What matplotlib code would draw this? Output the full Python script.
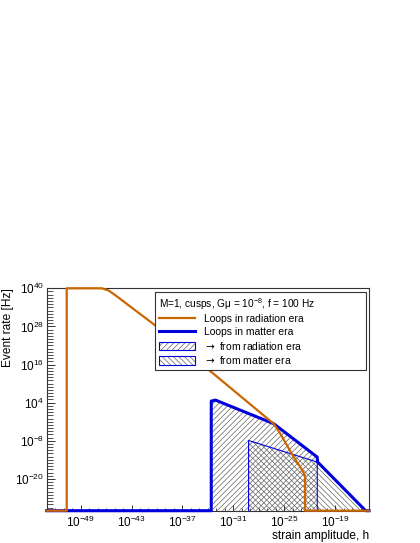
import numpy as np
import matplotlib
matplotlib.use('Agg')
import matplotlib.pyplot as plt
from matplotlib.lines import Line2D
from matplotlib.patches import Patch
from matplotlib.ticker import FixedLocator, FuncFormatter, NullFormatter

plt.rcParams['font.family'] = ['Liberation Sans', 'DejaVu Sans']
plt.rcParams['mathtext.fontset'] = 'custom'
plt.rcParams['mathtext.rm'] = 'Liberation Sans'
plt.rcParams['mathtext.it'] = 'Liberation Sans:italic'
plt.rcParams['mathtext.bf'] = 'Liberation Sans:bold'
plt.rcParams['mathtext.sf'] = 'DejaVu Sans'
plt.rcParams['hatch.linewidth'] = 0.45

# values, as log10(h) and log10(rate)
# floor value -30 = zero bin (drawn on the lower frame like ROOT does)
rad_logh = [-53, -50.64, -50.64, -46.5, -45.7, -44.9, -40.2, -26.25, -25.46, -23.89, -23.09, -22.54, -22.54, -15.0]
rad_lograte = [-30, -30, 40, 40, 39.3, 37.8, 28.3, -2.6, -5.74, -13.1, -16.3, -19.0, -30, -30]

mat_logh = [-53, -33.6, -33.6, -33.1, -26.25, -21.12, -21.05, -15.4, -15.0]
mat_lograte = [-30, -30, 4.5, 4.8, -2.6, -13.1, -14.7, -30, -30]

# contribution from loops born in radiation era
fromrad_logh = [-33.6, -33.6, -33.1, -26.25, -21.12, -21.12]
fromrad_lograte = [-30, 4.5, 4.8, -2.6, -13.1, -30]

# contribution from loops born in matter era
frommat_logh = [-29.2, -29.2, -21.1, -15.4]
frommat_lograte = [-30, -7.9, -14.7, -30]

ytick_exp = [40, 28, 16, 4, -8, -20]
xtick_exp = [-49, -43, -37, -31, -25, -19]

orange = '#cc6600'
blue = '#0000dd'
frame = '#333333'
hatchc = '#555555'


def p10(v):
    return 10.0 ** np.array(v, dtype=float)


fig = plt.figure(figsize=(4.2, 5.43), dpi=100)
ax = fig.add_axes([0.1112, 0.0595, 0.7674, 0.4096])
ax.set_xscale('log')
ax.set_yscale('log')

# hatched areas
ax.fill(p10(fromrad_logh), p10(fromrad_lograte), facecolor='none',
        edgecolor=hatchc, hatch='//////', linewidth=0, zorder=1)
ax.fill(p10(frommat_logh), p10(frommat_lograte), facecolor='none',
        edgecolor=hatchc, hatch='\\\\\\\\\\\\', linewidth=0, zorder=1)
ax.plot(p10(frommat_logh[:3] + [frommat_logh[2]]),
        p10(frommat_lograte[:3] + [-30]), color=blue, lw=0.8, zorder=2,
        clip_on=False)

ax.plot(p10(mat_logh), p10(mat_lograte), color=blue, lw=2.2, zorder=3,
        clip_on=False, solid_joinstyle='round')
ax.plot(p10(rad_logh), p10(rad_lograte), color=orange, lw=1.6, zorder=4,
        clip_on=False, solid_joinstyle='round')

ax.set_xlim(1e-53, 1e-15)
ax.set_ylim(1e-30, 1e40)

fmt = FuncFormatter(lambda v, pos: r'$10^{%d}$' % int(round(np.log10(v))))
ax.xaxis.set_major_locator(FixedLocator(p10(xtick_exp)))
ax.xaxis.set_minor_locator(FixedLocator(p10(np.arange(-53, -14))))
ax.yaxis.set_major_locator(FixedLocator(p10(ytick_exp)))
ax.yaxis.set_minor_locator(FixedLocator(p10(np.arange(-30, 41))))
ax.xaxis.set_major_formatter(fmt)
ax.yaxis.set_major_formatter(fmt)
ax.xaxis.set_minor_formatter(NullFormatter())
ax.yaxis.set_minor_formatter(NullFormatter())

ax.tick_params(axis='both', which='both', direction='in', colors=frame,
               labelcolor='black', labelsize=8.5, top=False, right=False)
ax.tick_params(axis='y', which='major', length=5.5, width=0.7, pad=2)
ax.tick_params(axis='y', which='minor', length=4.5, width=0.6)
ax.tick_params(axis='x', which='major', length=4, width=0.7, pad=3)
ax.tick_params(axis='x', which='minor', length=2.5, width=0.6)
for sp in ax.spines.values():
    sp.set_color(frame)
    sp.set_linewidth(0.8)

ax.set_xlabel('strain amplitude, h', fontsize=8.6, loc='right')
ax.set_ylabel('Event rate [Hz]', fontsize=8.6, loc='top')
ax.xaxis.set_label_coords(1.0, -0.085)
ax.yaxis.set_label_coords(-0.101, 1.0)

handles = [
    Line2D([], [], color=orange, lw=1.6),
    Line2D([], [], color=blue, lw=2.2),
    (Patch(facecolor='white', edgecolor=hatchc, hatch='//////', lw=0),
     Patch(facecolor='none', edgecolor=blue, lw=0.8)),
    (Patch(facecolor='white', edgecolor=hatchc, hatch='\\\\\\\\\\\\', lw=0),
     Patch(facecolor='none', edgecolor=blue, lw=0.8)),
]
labels = ['Loops in radiation era', 'Loops in matter era',
          r'$\mathsf{\rightarrow}$ from radiation era',
          r'$\mathsf{\rightarrow}$ from matter era']
leg = ax.legend(handles, labels,
                title='M=1, cusps, G\u03bc = 10$^{-8}$, f = 100 Hz',
                loc='upper left', mode='expand',
                bbox_to_anchor=(0.369, 0.30, 0.5017, 0.1617),
                bbox_transform=fig.transFigure, borderaxespad=0,
                fontsize=7.5, title_fontsize=7.3, alignment='left',
                handlelength=3.5, handleheight=0.85, handletextpad=0.9,
                labelspacing=0.25, borderpad=0.35, fancybox=False,
                framealpha=1, edgecolor=frame)
leg.get_frame().set_linewidth(0.8)
leg.set_zorder(10)

plt.savefig('out.png', dpi=100)
